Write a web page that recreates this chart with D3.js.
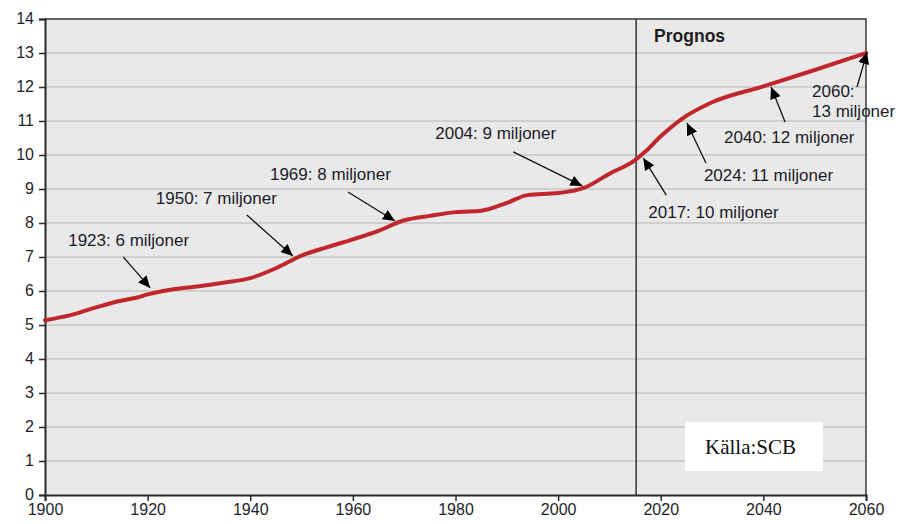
<!DOCTYPE html>
<html><head><meta charset="utf-8">
<script src="https://cdn.jsdelivr.net/npm/d3@7"></script>
<style>body{margin:0;background:#fff;}svg{display:block;}</style>
</head><body><svg id="c" width="898" height="524"></svg>
<script>
// Data
const years = [1900,1905,1910,1915,1918,1920,1923,1925,1930,1935,1940,1945,1950,1955,1960,1965,1970,1975,1980,1985,1990,1994,2000,2005,2010,2015,2017,2020,2024,2030,2040,2050,2060];
const population = [5.14,5.29,5.52,5.72,5.81,5.90,6.0,6.05,6.14,6.25,6.38,6.67,7.04,7.29,7.52,7.77,8.08,8.21,8.32,8.36,8.59,8.82,8.88,9.03,9.45,9.85,10.1,10.55,11.05,11.55,12.02,12.5,13.0];
const yTicks = [0,1,2,3,4,5,6,7,8,9,10,11,12,13,14];
const xTicks = [1900,1920,1940,1960,1980,2000,2020,2040,2060];
const prognosYear = 2015.2;
const annLabels = [["1923: 6 miljoner"],["1950: 7 miljoner"],["1969: 8 miljoner"],["2004: 9 miljoner"],["2017: 10 miljoner"],["2024: 11 miljoner"],["2040: 12 miljoner"],["2060:","13 miljoner"]];
const annYears = [1920.5,1948.3,1968.2,2004.7,2016.6,2025.1,2041.5,2060.2];
const annValues = [6.09,7.03,8.06,9.09,9.91,10.94,12.0,13.03];

// Layout (pixel offsets relative to arrow tip): [tailDx, tailDy, textDx, textDy]
const annLayout = [[-27,-31,-82,-42],[-46,-41,-137,-52],[-47,-29,-125,-41],[-69,-34,-147,-47],[23,37,5,60],[19,40,17,58],[14,35,-47,56],[-10,35,-55,45]];

const svg = d3.select("#c");
const m = {l:45, r:866, t:19, b:495};
const x = d3.scaleLinear().domain([1900,2060]).range([m.l,m.r]);
const y = d3.scaleLinear().domain([0,14]).range([m.b,m.t]);

svg.append("rect").attr("x",m.l).attr("y",m.t).attr("width",m.r-m.l).attr("height",m.b-m.t).attr("fill","#e9e9e9");

svg.append("g").selectAll("line").data(yTicks.filter(d=>d>0&&d<14)).join("line")
  .attr("x1",m.l).attr("x2",m.r).attr("y1",d=>y(d)).attr("y2",d=>y(d))
  .attr("stroke","#c6c6c6").attr("stroke-width",1.5);

// border top/right
svg.append("path").attr("d",`M${m.l},${m.t}H${m.r}V${m.b}`).attr("fill","none").attr("stroke","#3a3a3a").attr("stroke-width",1.5);

// prognos line
svg.append("line").attr("x1",x(prognosYear)).attr("x2",x(prognosYear)).attr("y1",m.t).attr("y2",m.b)
  .attr("stroke","#333").attr("stroke-width",1.5);

// axes
const yAxis = d3.axisLeft(y).tickValues(yTicks).tickSize(6).tickPadding(5);
const gy = svg.append("g").attr("transform",`translate(${m.l},0)`).call(yAxis);
const xAxis = d3.axisBottom(x).tickValues(xTicks).tickFormat(d3.format("d")).tickSize(6).tickPadding(3);
const gx = svg.append("g").attr("transform",`translate(0,${m.b})`).call(xAxis);
[gy,gx].forEach(g=>{
  g.select(".domain").attr("stroke","#2a2a2a").attr("stroke-width",2);
  g.selectAll(".tick line").attr("stroke","#2a2a2a").attr("stroke-width",1.5);
  g.selectAll("text").attr("font-family","Liberation Sans, Arial, sans-serif").attr("font-size",16).attr("fill","#1e1e2a");
});
gy.selectAll("text").attr("dy","0.3em");

// line
const line = d3.line().x((d,i)=>x(years[i])).y(d=>y(d)).curve(d3.curveMonotoneX);
svg.append("path").datum(population).attr("d",line).attr("fill","none")
  .attr("stroke","#c0272d").attr("stroke-width",4).attr("stroke-linejoin","round").attr("stroke-linecap","round");

// Prognos label
svg.append("text").attr("x",x(prognosYear)+18).attr("y",42).text("Prognos")
  .attr("font-family","Liberation Sans, Arial, sans-serif").attr("font-size",17.5).attr("font-weight","bold").attr("fill","#1e1e1e");

// arrowheads
svg.append("defs").append("marker").attr("id","ah").attr("viewBox","0 0 12 11").attr("refX",12).attr("refY",5.5)
  .attr("markerWidth",12).attr("markerHeight",11).attr("markerUnits","userSpaceOnUse").attr("orient","auto")
  .append("path").attr("d","M0,0L12,5.5L0,11z").attr("fill","#000");

const ann = svg.append("g");
annLabels.forEach((lab,i)=>{
  const tx = x(annYears[i]), ty = y(annValues[i]);
  const L = annLayout[i];
  ann.append("line").attr("x1",tx+L[0]).attr("y1",ty+L[1]).attr("x2",tx).attr("y2",ty)
    .attr("stroke","#111").attr("stroke-width",1.3).attr("marker-end","url(#ah)");
  const t = ann.append("text").attr("x",tx+L[2]).attr("y",ty+L[3])
    .attr("font-family","Liberation Sans, Arial, sans-serif").attr("font-size",17).attr("fill","#1c1c28");
  lab.forEach((s,j)=>t.append("tspan").attr("x",tx+L[2]).attr("dy",j?20:0).text(s));
});

// source box
svg.append("rect").attr("x",685).attr("y",422).attr("width",138).attr("height",49).attr("fill","#fff");
svg.append("text").attr("x",705).attr("y",454).text("Källa:SCB")
  .attr("font-family","Liberation Serif, Times New Roman, serif").attr("font-size",21).attr("fill","#111");
</script></body></html>
